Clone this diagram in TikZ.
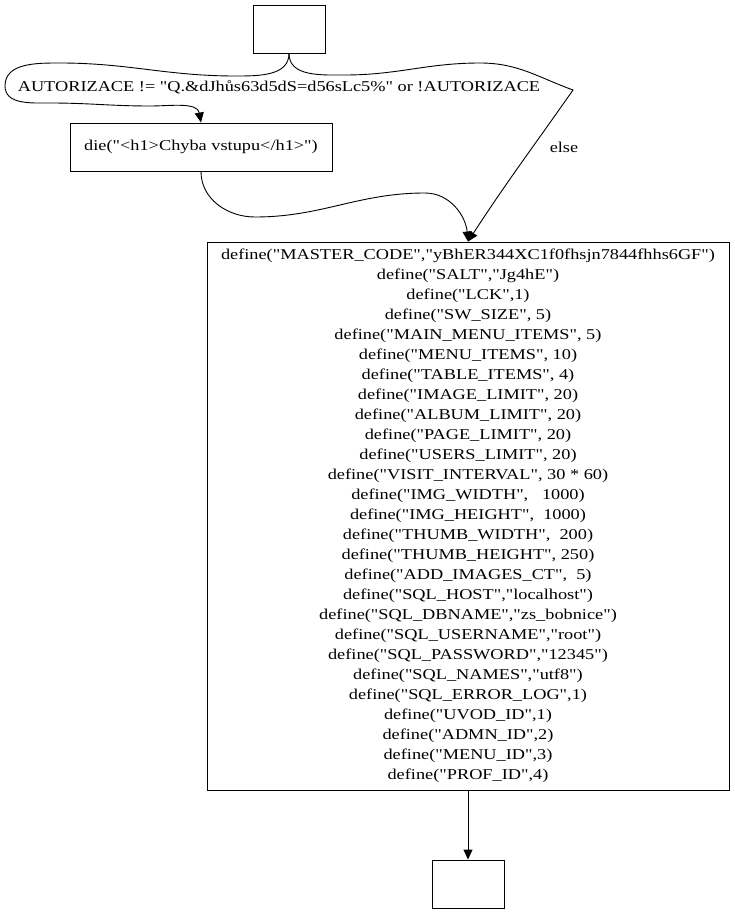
\documentclass[tikz,border=0pt]{standalone}
\usepackage{fontspec}
\setmainfont{Liberation Serif}[Ligatures=TeXOff, FakeStretch=1.22]
\usetikzlibrary{arrows.meta}

\begin{document}
\begin{tikzpicture}[x=1pt, y=-1pt, line width=0.9pt, >={Triangle[length=10pt, width=9pt]},
	every node/.style={font=\fontsize{15}{20}\selectfont, inner sep=0pt},
	box/.style={draw, line width=0.9pt}]
	\useasboundingbox (0,0) rectangle (735,915);
	\node[box, minimum width=72pt, minimum height=48pt] (start) at (289,29) {};
	\node[box, minimum width=262pt, minimum height=48pt] (die) at (201,147) {die("<h1>Chyba vstupu</h1>")};
	\node[box, minimum width=522pt, minimum height=548pt, align=center] (defs) at (468,516) {define("MASTER\_CODE","yBhER344XC1f0fhsjn7844fhhs6GF")\\ define("SALT","Jg4hE")\\ define("LCK",1)\\ define("SW\_SIZE", 5)\\ define("MAIN\_MENU\_ITEMS", 5)\\ define("MENU\_ITEMS", 10)\\ define("TABLE\_ITEMS", 4)\\ define("IMAGE\_LIMIT", 20)\\ define("ALBUM\_LIMIT", 20)\\ define("PAGE\_LIMIT", 20)\\ define("USERS\_LIMIT", 20)\\ define("VISIT\_INTERVAL", 30 * 60)\\ define("IMG\_WIDTH",\ \ \ 1000)\\ define("IMG\_HEIGHT",\ \ 1000)\\ define("THUMB\_WIDTH",\ \ 200)\\ define("THUMB\_HEIGHT", 250)\\ define("ADD\_IMAGES\_CT",\ \ 5)\\ define("SQL\_HOST","localhost")\\ define("SQL\_DBNAME","zs\_bobnice")\\ define("SQL\_USERNAME","root")\\ define("SQL\_PASSWORD","12345")\\ define("SQL\_NAMES","utf8")\\ define("SQL\_ERROR\_LOG",1)\\ define("UVOD\_ID",1)\\ define("ADMN\_ID",2)\\ define("MENU\_ID",3)\\ define("PROF\_ID",4)};
	\node[box, minimum width=72pt, minimum height=48pt] (stop) at (468,884) {};
	\node (lblauth) at (279,87) {AUTORIZACE != "Q.\&dJhůs63d5dS=d56sLc5\%" or !AUTORIZACE};
	\node (lblelse) at (564,147) {else};
	% branches out of the start box
	\draw[->] (start.south) to[out=-90, in=0] (235,76) to[out=180, in=0] (60,63) to[out=180, in=90] (5,86) to[out=-90, in=180] (50,103) to[out=0, in=180] (150,106) to[out=0, in=100] (die.north);
	\draw[->] (start.south) to[out=-90, in=180] (345,75) to[out=0, in=180] (480,63) to[out=0, in=160] (573,90) to[out=235, in=57] (defs.north);
	\draw[->] (die.south) to[out=-90, in=180] (255,217) to[out=0, in=180] (425,193) to[out=0, in=95] (defs.north);
	\draw[->] (defs.south) -- (stop.north);
\end{tikzpicture}
\end{document}
